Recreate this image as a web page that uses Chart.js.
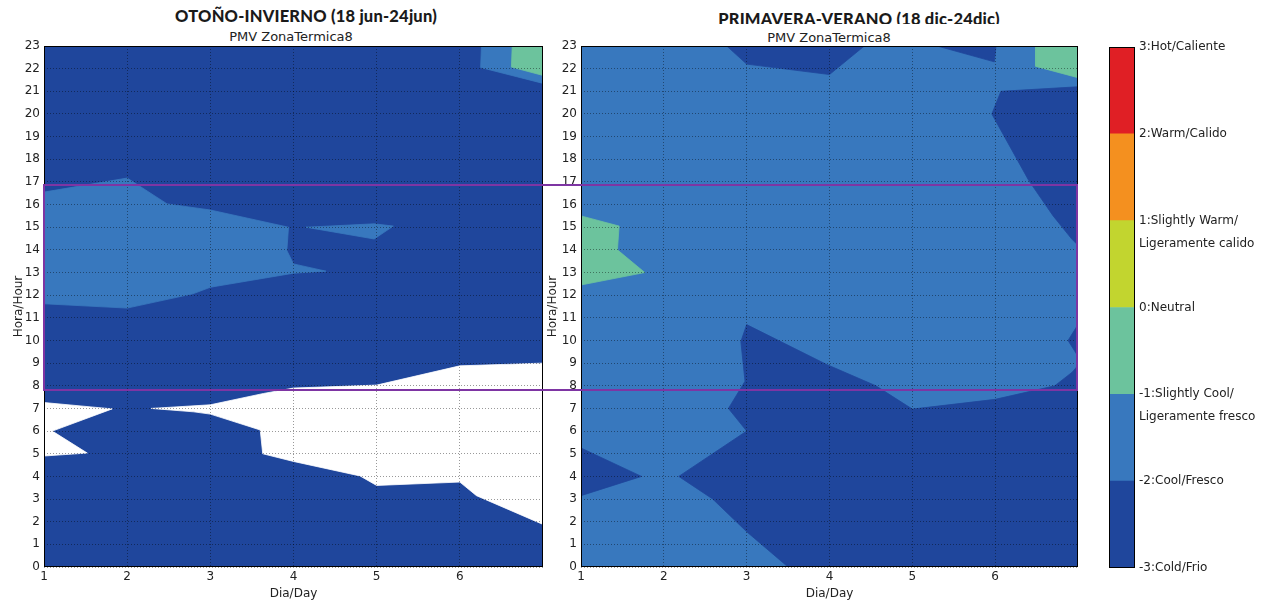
<!DOCTYPE html>
<html><head><meta charset="utf-8">
<script src="https://cdn.jsdelivr.net/npm/chart.js@4.4.1/dist/chart.umd.min.js"></script>
<style>
html,body{margin:0;padding:0;background:#fff;}
body{width:1270px;height:604px;position:relative;overflow:hidden;font-family:'DejaVu Sans',sans-serif;}
canvas{position:absolute;top:0;}
.t{position:absolute;white-space:nowrap;color:#222;transform:translateX(-50%);}
.big{font-family:'Lato',sans-serif;font-weight:900;font-size:16.5px;color:#1a1a1a;letter-spacing:0.2px;}
.sub{font-family:'DejaVu Sans',sans-serif;font-size:13px;}
#clip{position:absolute;left:640px;top:0;width:440px;height:24px;overflow:hidden;}
#box{position:absolute;border:2px solid #7e35a3;box-sizing:border-box;pointer-events:none;}
</style></head><body>
<div class="t big" style="left:306px;top:6px;">OTOÑO-INVIERNO (18 jun-24jun)</div>
<div class="t sub" style="left:291px;top:29px;">PMV ZonaTermica8</div>
<div id="clip"><div class="t big" style="left:219px;top:9px;">PRIMAVERA-VERANO (18 dic-24dic)</div></div>
<div class="t sub" style="left:829px;top:30px;">PMV ZonaTermica8</div>
<canvas id="c1" width="560" height="604" style="left:0px"></canvas>
<canvas id="c2" width="560" height="604" style="left:530px"></canvas>
<canvas id="c3" width="170" height="604" style="left:1100px"></canvas>
<div id="box"></div>
<script>
// ---------- data ----------
const dayTicks = [1, 2, 3, 4, 5, 6];
const hourTicks = [0,1,2,3,4,5,6,7,8,9,10,11,12,13,14,15,16,17,18,19,20,21,22,23];
const dayRange = [1, 7];
const hourRange = [0, 23];

const pmvLevels = [-3, -2, -1, 0, 1, 2, 3];
const pmvLabels = ['-3:Cold/Frio', '-2:Cool/Fresco', ['', '-1:Slightly Cool/', 'Ligeramente fresco'],
  '0:Neutral', ['', '1:Slightly Warm/', 'Ligeramente calido'], '2:Warm/Calido', '3:Hot/Caliente'];
const pmvColors = ['#1f469c', '#3878be', '#6cc39d', '#c2d52f', '#f4901f', '#e01f25'];

// contour regions [day, hour] — Otoño-Invierno
const oiFull = [[1,0],[7,0],[7,23],[1,23]];                         // level -3 (cold)
const oiNoData1 = [[7,9.0],[6,8.88],[5,8.03],[4,7.9],[3.64,7.66],[3,7.16],[2.29,7.0],[2.8,6.85],[3,6.75],
  [3.6,6.05],[3.63,5.0],[4,4.66],[4.8,4.02],[5.0,3.6],[6,3.75],[6.2,3.15],[7,1.88]];
const oiNoData2 = [[1,7.26],[1.82,6.98],[1.1,6.0],[1.52,5.03],[1,4.9]];
const oiCool1 = [[1,16.55],[2,17.17],[2.48,16.03],[3,15.76],[3.94,15.0],[3.92,13.97],[4.0,13.38],[4.39,13.06],
  [4,12.97],[3,12.35],[2.79,12.06],[2,11.43],[1,11.62]];
const oiCool2 = [[4.15,15.0],[4.97,15.15],[5.2,15.05],[4.97,14.48]];
const oiCool3 = [[6.26,23],[6.25,22.05],[7,21.35],[7,23]];
const oiSlCool1 = [[6.63,23],[6.62,22.07],[7,21.7],[7,23]];

// Primavera-Verano
const pvFull = [[1,0],[7,0],[7,23],[1,23]];                         // level -2 (cool)
const pvCold1 = [[2.76,23],[3.0,22.2],[4.0,21.74],[4.42,23]];
const pvCold2 = [[5.3,23],[5.99,22.3],[6.01,23]];
const pvCold3 = [[7,21.2],[6.07,21.0],[5.96,20.0],[6.4,17.1],[6.53,16.4],[6.7,15.5],[6.92,14.5],[7,14.2]];
const pvCold4 = [[7,10.7],[6.88,10.0],[7,9.3]];
const pvCold5 = [[3.0,10.7],[3.96,8.95],[4.56,8.0],[5.0,6.97],[6.0,7.4],[6.72,8.0],[6.93,8.6],[7,8.9],[7,0],
  [3.5,0],[3.0,1.56],[2.59,3.0],[2.18,4.0],[3.0,6.0],[2.78,7.0],[2.98,8.2],[2.93,9.95]];
const pvCold6 = [[1,5.25],[1.73,4.0],[1,3.15]];
const pvSlCool1 = [[6.49,23],[6.49,22.1],[7,21.6],[7,23]];
const pvSlCool2 = [[1,15.5],[1.46,15.05],[1.44,14.0],[1.77,13.0],[1,12.45]];

const focusHours = [7.8, 16.85];   // highlighted occupation band

// ---------- helpers ----------
Chart.defaults.font.family = "'DejaVu Sans', sans-serif";
Chart.defaults.color = '#222';
const WHITE = '#ffffff';

function poly(pts, color) {
  const d = pts.concat([pts[0]]).map(p => ({x: p[0], y: p[1]}));
  return {data: d, showLine: true, fill: 'shape', backgroundColor: color, borderColor: color,
    borderWidth: 0.8, pointRadius: 0, tension: 0};
}
const framePlugin = {
  id: 'frame',
  afterDraw(chart) {
    const a = chart.chartArea, ctx = chart.ctx;
    ctx.save(); ctx.strokeStyle = '#000'; ctx.lineWidth = 1;
    ctx.strokeRect(Math.round(a.left) + 0.5, Math.round(a.top) + 0.5,
      Math.round(a.right - a.left) - 1, Math.round(a.bottom - a.top) - 1);
    ctx.restore();
  }
};
const gridOpts = {color: 'rgba(0,0,0,0.4)', lineWidth: 1, drawTicks: false, z: 1};
function plotCfg(layers, yTitlePad, padRight, yWidth) {
  const ds = layers.slice().reverse();   // first layer at the bottom
  return {
    type: 'scatter',
    data: {datasets: ds},
    plugins: [framePlugin],
    options: {
      responsive: false, animation: false, events: [],
      layout: {padding: {top: 46, right: padRight, left: 0, bottom: 0}},
      plugins: {legend: {display: false}, tooltip: {enabled: false}, title: {display: false}},
      scales: {
        x: {
          type: 'linear', min: dayRange[0], max: dayRange[1],
          afterBuildTicks: s => { s.ticks = dayTicks.map(v => ({value: v})); },
          afterFit: s => { s.height = 37; },
          ticks: {font: {size: 12}, padding: 3, maxRotation: 0, autoSkip: false, color: '#222'},
          grid: gridOpts,
          border: {display: false, dash: [1, 2]},
          title: {display: true, text: 'Dia/Day', font: {size: 12}, color: '#222', padding: {top: 0, bottom: 3}}
        },
        y: {
          type: 'linear', min: hourRange[0], max: hourRange[1],
          afterBuildTicks: s => { s.ticks = hourTicks.map(v => ({value: v})); },
          afterFit: s => { s.width = yWidth; },
          ticks: {font: {size: 12}, padding: 4, autoSkip: false, color: '#222'},
          grid: gridOpts,
          border: {display: false, dash: [1, 2]},
          title: {display: true, text: 'Hora/Hour', font: {size: 12}, color: '#222', padding: {top: yTitlePad, bottom: 0}}
        }
      }
    }
  };
}

const c = pmvColors;
const leftChart = new Chart(document.getElementById('c1'), plotCfg([
  poly(oiFull, c[0]), poly(oiNoData1, WHITE), poly(oiNoData2, WHITE),
  poly(oiCool1, c[1]), poly(oiCool2, c[1]), poly(oiCool3, c[1]), poly(oiSlCool1, c[2])
], 12, 17, 44));

const rightChart = new Chart(document.getElementById('c2'), plotCfg([
  poly(pvFull, c[1]), poly(pvCold1, c[0]), poly(pvCold2, c[0]), poly(pvCold3, c[0]), poly(pvCold4, c[0]),
  poly(pvCold5, c[0]), poly(pvCold6, c[0]), poly(pvSlCool1, c[2]), poly(pvSlCool2, c[2])
], 16, 12, 51));

// colorbar
const bands = pmvColors.map((col, i) => ({
  data: [[pmvLevels[i], pmvLevels[i + 1]]], backgroundColor: col, borderWidth: 0,
  grouped: false, barPercentage: 1, categoryPercentage: 1
}));
new Chart(document.getElementById('c3'), {
  type: 'bar',
  data: {labels: ['PMV'], datasets: bands},
  plugins: [framePlugin],
  options: {
    responsive: false, animation: false, events: [],
    layout: {padding: {top: 47, bottom: 36, left: 9, right: 0}},
    plugins: {legend: {display: false}, tooltip: {enabled: false}},
    scales: {
      x: {display: false},
      y: {
        position: 'right', min: pmvLevels[0], max: pmvLevels[pmvLevels.length - 1],
        afterBuildTicks: s => { s.ticks = pmvLevels.map(v => ({value: v})); },
        afterFit: s => { s.width = 135; },
        ticks: {font: {size: 12, lineHeight: 1.9}, padding: 4, autoSkip: false, color: '#222',
          callback: v => pmvLabels[pmvLevels.indexOf(v)]},
        grid: {display: false, drawTicks: false},
        border: {display: false}
      }
    }
  }
});

// highlighted band across both panels
const ysc = leftChart.scales.y;
const boxEl = document.getElementById('box');
const yTop = ysc.getPixelForValue(focusHours[1]);
const yBot = ysc.getPixelForValue(focusHours[0]);
const lx = leftChart.chartArea.left;
const rx = 530 + rightChart.chartArea.right;
boxEl.style.left = (lx - 1) + 'px';
boxEl.style.top = (yTop - 1) + 'px';
boxEl.style.width = (rx - lx + 1) + 'px';
boxEl.style.height = (yBot - yTop + 2) + 'px';
</script>
</body></html>
